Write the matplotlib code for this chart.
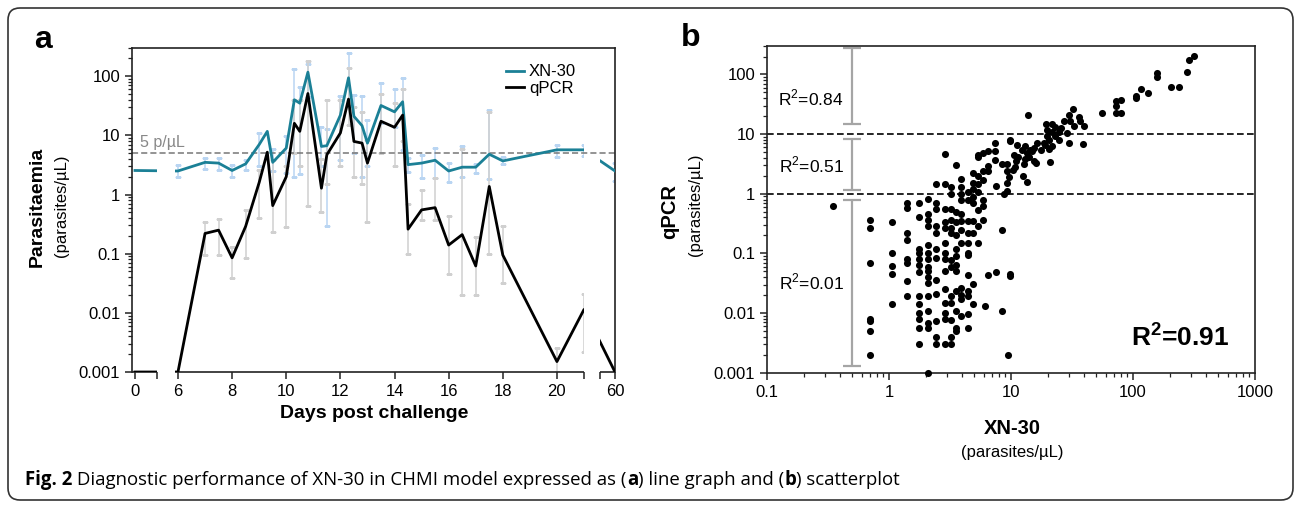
import numpy as np
import matplotlib
matplotlib.use('Agg')
import matplotlib.pyplot as plt
from matplotlib.path import Path
from matplotlib.patches import FancyBboxPatch
from matplotlib.ticker import FixedLocator, FuncFormatter, NullFormatter
from matplotlib import transforms

plt.rcParams['font.family'] = ['Liberation Sans', 'DejaVu Sans']
plt.rcParams['mathtext.fontset'] = 'custom'
plt.rcParams['mathtext.rm'] = 'Liberation Sans'
plt.rcParams['mathtext.bf'] = 'Liberation Sans:bold'

# ---- panel a data (days post challenge) ----
nan = np.nan
days = [0, 6, 7, 7.5, 8, 8.5, 9, 9.3, 9.5, 10, 10.3, 10.5, 10.8, 11.3, 11.5, 12,
        12.3, 12.5, 12.8, 13, 13.5, 14, 14.3, 14.5, 15, 15.5, 16, 16.5, 17, 17.5,
        18, 20, 21, 60]
xn30 = [2.55, 2.5, 3.5, 3.4, 2.55, 3.3, 7.0, 11.7, 3.5, 6.1, 40, 35, 117, 6.5, 6.7, 22,
        94, 21, 14.6, 7.4, 32, 25, 37, 3.2, 3.4, 3.8, 2.5, 2.9, 2.9, 4.8,
        3.7, 5.7, 5.7, 2.5]
xn30_lo = [nan, 2.0, 2.7, 2.6, 2.0, 2.6, 3.0, nan, 2.5, 2.3, 2.0, 2.2, 45, 3.0, 0.29, 3.9,
           31, 5.0, 2.0, 3.0, 16, 14, 5.7, 2.4, 1.9, 1.9, 1.65, 2.0, 2.3, 1.8,
           3.3, 4.3, 4.5, 1.7]
xn30_hi = [nan, 3.1, 4.2, 4.1, 3.1, 3.9, 11, nan, 6.0, 9.6, 130, 65, 160, 14, 13, 46,
           250, 48, 46, 18, 77, 60, 94, 4.1, 4.7, 6.1, 3.4, 6.5, 3.3, 27,
           4.3, 6.9, 6.9, 3.4]
qpcr = [0.001, 0.001, 0.22, 0.25, 0.085, 0.29, 1.6, 5.2, 0.65, 2.0, 16, 11.7, 51, 1.28, 4.7, 11,
        41, 7.9, 7.4, 3.4, 17.3, 13.7, 22, 0.26, 0.55, 0.6, 0.14, 0.21, 0.062, 1.37,
        0.095, 0.0015, 0.0114, 0.001]
qpcr_lo = [nan, nan, 0.094, 0.094, 0.039, 0.085, 0.4, nan, 0.23, 0.28, 5, 3, 0.63, 0.5, 1.5, 3,
           15, 2, 1.5, 0.35, 5, 3, 8, 0.1, 0.37, 0.37, 0.045, 0.02, 0.02, 0.1,
           0.032, 0.001, 0.0022, nan]
qpcr_hi = [nan, nan, 0.35, 0.39, 0.13, 0.55, 2.6, nan, 3.9, 3.0, 40, 40, 180, 4, 40, 40,
           140, 30, 25, 8.4, 50, 35, 60, 0.7, 1.2, 1.9, 0.43, 6, 0.19, 25,
           0.29, 0.0025, 0.021, nan]
day_ticks = [0, 6, 8, 10, 12, 14, 16, 18, 20, 60]

# ---- panel b data: XN-30 vs qPCR (parasites/uL) ----
sc_x_low = ([0.35] + [0.7] * 7 + [1.05] * 5 + [1.4] * 8 + [1.75] * 13 + [2.1] * 16
            + [2.45] * 12)
sc_y_low = ([0.63]
            + [0.37, 0.27, 0.07, 0.008, 0.0073, 0.005, 0.002]
            + [0.33, 0.1, 0.062, 0.046, 0.014]
            + [0.71, 0.58, 0.22, 0.17, 0.08, 0.068, 0.034, 0.019]
            + [0.71, 0.4, 0.12, 0.1, 0.08, 0.065, 0.048, 0.019, 0.014, 0.01, 0.008, 0.0057, 0.003]
            + [0.82, 0.45, 0.37, 0.29, 0.14, 0.1, 0.08, 0.06, 0.05, 0.04, 0.032, 0.019, 0.011,
               0.0068, 0.0057, 0.001]
            + [1.46, 0.71, 0.56, 0.29, 0.22, 0.12, 0.085, 0.036, 0.021, 0.0073, 0.004, 0.003])
sc_x_mid = ([2.9] * 14 + [3.2] * 13 + [3.55] * 12 + [3.9] * 12 + [4.4] * 12 + [4.9] * 9
            + [5.4] * 8 + [5.9] * 6)
sc_y_mid = ([4.7, 1.46, 0.55, 0.33, 0.27, 0.15, 0.1, 0.08, 0.05, 0.025, 0.015, 0.0099, 0.008, 0.003]
            + [1.29, 1.0, 0.55, 0.37, 0.27, 0.22, 0.077, 0.06, 0.019, 0.015, 0.0077, 0.004, 0.003]
            + [3.0, 0.5, 0.33, 0.2, 0.12, 0.09, 0.065, 0.05, 0.023, 0.011, 0.0057, 0.005]
            + [1.77, 1.32, 1.0, 0.78, 0.45, 0.35, 0.25, 0.15, 0.026, 0.02, 0.017, 0.009]
            + [1.05, 0.8, 0.35, 0.22, 0.15, 0.1, 0.094, 0.044, 0.023, 0.019, 0.0095, 0.0057]
            + [2.2, 1.5, 1.18, 0.89, 0.7, 0.35, 0.22, 0.031, 0.014]
            + [4.5, 4.2, 1.98, 1.45, 1.07, 0.53, 0.29, 0.15]
            + [4.8, 2.4, 1.7, 0.8, 0.62, 0.37])
sc_x_hi = [6.5, 6.5, 6.5, 6.5, 6.1, 7.4, 7.4, 7.4, 7.6, 7.6, 8.4, 8.4, 8.4, 8.7, 9.2, 9.2, 9.2,
           9.2, 9.5, 9.8, 9.8, 9.8, 9.8, 9.6, 10.4, 10.8, 11.2, 11.5, 12.4, 12.5, 12.7, 13,
           13, 13.5, 13.5, 14.2, 14, 15, 15.5, 15.5, 16, 16.3, 10.5, 11, 13.9, 17.5, 18.5,
           19, 19.4, 21.7, 19.7, 21.6, 19.7, 20.4, 22.8, 24.7, 25.6, 20.4, 21.6, 24.7,
           21, 23, 27, 29, 30, 30.7, 32, 33, 36, 37, 40, 30, 39,
           56, 72, 79, 72, 80, 72, 106, 106, 117, 133, 157, 157, 205, 240, 275, 288, 316]
sc_y_hi = [5.2, 2.9, 2.4, 0.043, 0.013, 7.1, 5.2, 3.7, 1.35, 0.048, 0.25, 0.011, 3.1, 1.0, 3.1,
           2.4, 1.5, 1.1, 0.002, 7.6, 0.046, 0.042, 8.1, 1.9, 2.5, 2.8, 6.6, 4.2, 5.5, 2.0, 3.1,
           6.2, 3.8, 4.9, 1.6, 5.5, 4.2, 5.2, 5.9, 3.5, 3.3, 7.1, 4.4, 3.6, 20.7, 5.5, 7,
           6.5, 15, 15, 11.8, 11, 9.2, 8, 9.2, 11, 12.6, 5.7, 6.2, 8,
           3.4, 13, 16.4, 10.5, 21, 16.4, 26, 13.5, 19, 16.4, 13.5, 7.1, 6.7,
           22.7, 35.6, 38, 22.7, 23, 30, 40, 44, 56, 48, 107, 91, 62, 62, 109, 174, 203]
sc_x = sc_x_low + sc_x_mid + sc_x_hi
sc_y = sc_y_low + sc_y_mid + sc_y_hi

# R2 brackets (qPCR ranges) and their labels
bracket_lo = [15, 1.17, 0.0013]
bracket_hi = [275, 8.4, 0.8]
bracket_lab = ['R$^2$=0.84', 'R$^2$=0.51', 'R$^2$=0.01']
bracket_lab_y = [40, 3.0, 0.033]

TEAL = '#1b8096'
W, H = 1295, 508
fig = plt.figure(figsize=(W / 100, H / 100), dpi=100)

# rounded frame around the whole figure
fig.patches.append(FancyBboxPatch((8, 8), 1285, 492, boxstyle='round,pad=0,rounding_size=12',
                                  transform=None, fc='none', ec='#333333', lw=1.2))


def style_log_y(ax):
    ax.set_yscale('log')
    ax.set_ylim(0.001, 300)
    ax.yaxis.set_major_formatter(FuncFormatter(lambda v, p: f'{v:g}'))
    ax.yaxis.set_minor_formatter(NullFormatter())
    ax.tick_params(axis='both', which='major', direction='out', length=5, width=1.1,
                   labelsize=12, color='#222222')
    ax.tick_params(axis='both', which='minor', direction='out', length=3, width=0.9,
                   color='#222222')
    for s in ax.spines.values():
        s.set_linewidth(1.2)
        s.set_color('#222222')


# ================= panel a =================
axa = fig.add_axes([132 / W, 1 - 372 / H, 483 / W, 324 / H])
knot_days = [-0.11, 0.81, 5.89, 21.0, 59.44, 60.0]
knot_px = [132, 157, 175, 584, 600, 615]


def fwd(x):
    return np.interp(x, knot_days, knot_px)


def inv(u):
    return np.interp(u, knot_px, knot_days)


axa.set_xscale('function', functions=(fwd, inv))
axa.set_xlim(-0.11, 60)
style_log_y(axa)
axa.xaxis.set_major_locator(FixedLocator(day_ticks))
axa.xaxis.set_major_formatter(FuncFormatter(lambda v, p: f'{v:g}'))
axa.xaxis.set_minor_locator(FixedLocator([0.81, 21.0, 59.44]))
axa.tick_params(axis='x', which='minor', length=5, width=1.1)

# three visible pieces of the broken x axis
segs = [((knot_px[0] - 132) / 483, (knot_px[1] - 132) / 483),
        ((knot_px[2] - 132) / 483, (knot_px[3] - 132) / 483),
        ((knot_px[4] - 132) / 483, (knot_px[5] - 132) / 483)]
verts, codes = [], []
for a, b in segs:
    verts += [(a, -0.03), (b, -0.03), (b, 1), (a, 1), (a, -0.03)]
    codes += [Path.MOVETO, Path.LINETO, Path.LINETO, Path.LINETO, Path.CLOSEPOLY]
clip = Path(verts, codes)

axa.spines['bottom'].set_visible(False)
for a, b in segs:
    axa.plot([a, b], [0, 0], transform=axa.transAxes, color='#222222', lw=1.2,
             clip_on=False, solid_capstyle='butt')


def clip_all(artists):
    for art in artists:
        art.set_clip_path(clip, axa.transAxes)


d = np.array(days)
for vals, lo, hi, col in [(xn30, xn30_lo, xn30_hi, '#b9d5f2'),
                          (qpcr, qpcr_lo, qpcr_hi, '#d0d0d0')]:
    v = np.array(vals)
    yerr = [v - np.array(lo), np.array(hi) - v]
    eb = axa.errorbar(d, v, yerr=yerr, fmt='none', ecolor=col, elinewidth=1.1,
                      capsize=2, capthick=1.0, zorder=1)
    clip_all(list(eb[1]) + list(eb[2]))

l1, = axa.plot(days, xn30, color=TEAL, lw=2.0, label='XN-30', zorder=3)
l2, = axa.plot(days, qpcr, color='black', lw=2.0, label='qPCR', zorder=3)
clip_all([l1, l2])

axa.axhline(5, color='#777777', lw=1.1, ls=(0, (4, 2)), zorder=2)
blend = transforms.blended_transform_factory(axa.transAxes, axa.transData)
axa.text(0.017, 5.7, '5 p/µL', transform=blend, color='#888888', fontsize=11.5, va='bottom')

axa.legend(handles=[l1, l2], loc='upper left', bbox_to_anchor=(0.76, 0.97), frameon=False,
           handlelength=1.1, handletextpad=0.3, labelspacing=0.1, fontsize=12,
           borderaxespad=0)

fig.text(37 / W, 1 - 207 / H, 'Parasitaemia', rotation=90, ha='center', va='center',
         fontsize=14, fontweight='bold')
fig.text(62 / W, 1 - 206 / H, '(parasites/µL)', rotation=90, ha='center', va='center',
         fontsize=12)
fig.text(374 / W, 1 - 413 / H, 'Days post challenge', ha='center', va='center',
         fontsize=14, fontweight='bold')
fig.text(43 / W, 1 - 40 / H, 'a', ha='center', va='center', fontsize=23, fontweight='bold')

# ================= panel b =================
axb = fig.add_axes([767 / W, 1 - 372.7 / H, 488 / W, 326.7 / H])
style_log_y(axb)
axb.set_xscale('log')
axb.set_xlim(0.1, 1000)
axb.xaxis.set_major_formatter(FuncFormatter(lambda v, p: f'{v:g}'))
axb.xaxis.set_minor_formatter(NullFormatter())

axb.axhline(10, color='black', lw=1.2, ls=(0, (4, 2)), zorder=1)
axb.axhline(1, color='black', lw=1.2, ls=(0, (4, 2)), zorder=1)
axb.scatter(sc_x, sc_y, s=26, color='black', zorder=3, clip_on=False, linewidths=0)

blo = np.array(bracket_lo)
bhi = np.array(bracket_hi)
bmid = np.sqrt(blo * bhi)
axb.errorbar([0.5] * 3, bmid, yerr=[bmid - blo, bhi - bmid], fmt='none', ecolor='#a5a5a5',
             elinewidth=1.6, capsize=6.5, capthick=1.6, zorder=2)
for lab, yy in zip(bracket_lab, bracket_lab_y):
    axb.text(0.23, yy, lab, ha='center', va='center', fontsize=12.5)
axb.text(0.846, 0.11, r'R$^\mathbf{2}$=0.91', transform=axb.transAxes, ha='center',
         va='center', fontsize=19, fontweight='bold')

fig.text(670 / W, 1 - 212 / H, 'qPCR', rotation=90, ha='center', va='center',
         fontsize=14.5, fontweight='bold')
fig.text(695 / W, 1 - 205 / H, '(parasites/µL)', rotation=90, ha='center', va='center',
         fontsize=12)
fig.text(1012 / W, 1 - 429 / H, 'XN-30', ha='center', va='center', fontsize=14.5,
         fontweight='bold')
fig.text(1012 / W, 1 - 452 / H, '(parasites/µL)', ha='center', va='center', fontsize=12)
fig.text(691 / W, 1 - 38 / H, 'b', ha='center', va='center', fontsize=23, fontweight='bold')

# ================= caption =================
cap_fam = ['Open Sans', 'Liberation Sans', 'DejaVu Sans']
cap_size = 13.4
cap_parts = [('Fig. 2', 'bold'),
             (' Diagnostic performance of XN-30 in CHMI model expressed as (', 'normal'),
             ('a', 'bold'), (') line graph and (', 'normal'), ('b', 'bold'),
             (') scatterplot', 'normal')]
renderer = fig.canvas.get_renderer()


def text_width(s, weight):
    t1 = fig.text(0, 0, 'x' + s + 'x', fontsize=cap_size, family=cap_fam, fontweight=weight)
    t2 = fig.text(0, 0, 'xx', fontsize=cap_size, family=cap_fam, fontweight=weight)
    w = t1.get_window_extent(renderer).width - t2.get_window_extent(renderer).width
    t1.remove()
    t2.remove()
    return w


xpos = 25
for s, wgt in cap_parts:
    fig.text(xpos / W, 1 - 480 / H, s, fontsize=cap_size, family=cap_fam, fontweight=wgt,
             va='center', ha='left')
    xpos += text_width(s, wgt)

fig.savefig('out.png', dpi=100)
